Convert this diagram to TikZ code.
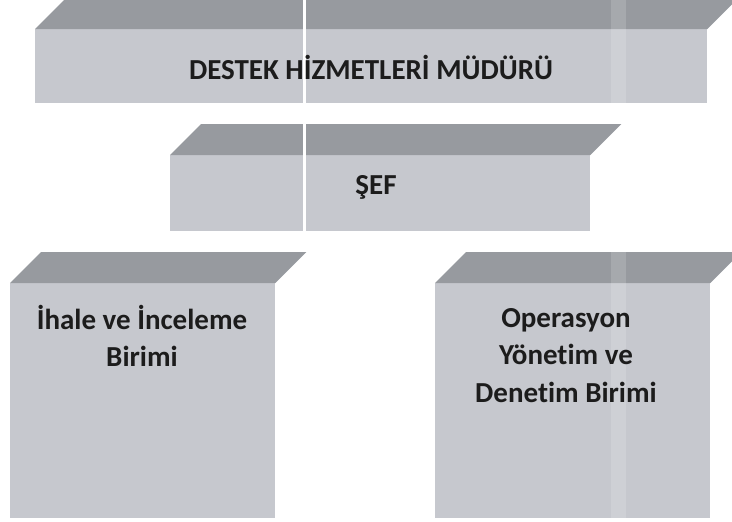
\documentclass[tikz,border=0pt]{standalone}
\usepackage{fontspec}
\setmainfont{Carlito}[Ligatures=NoCommon]
\definecolor{frontgray}{HTML}{C6C8CE}
\definecolor{topgray}{HTML}{979A9F}
\definecolor{inkgray}{HTML}{1C1C1C}
\begin{document}
\begin{tikzpicture}[x=1pt,y=-1pt,
  frontface/.style={draw=none, fill=frontgray, rectangle, inner sep=0pt, anchor=north west},
  topface/.style={fill=topgray, draw=none},
  label29/.style={font=\fontsize{29}{37.5}\selectfont\bfseries, text=inkgray, inner sep=0pt, align=center}]
\useasboundingbox (0,0) rectangle (732,522);
\fill[white] (0,0) rectangle (732,522);
% boxes (front faces)
\node[frontface, minimum width=672pt, minimum height=74pt] (b1) at (35,29) {};
\node[frontface, minimum width=420pt, minimum height=76pt] (b2) at (170,155) {};
\node[frontface, minimum width=265pt, minimum height=235pt] (b3) at (10,283) {};
\node[frontface, minimum width=275pt, minimum height=235pt] (b4) at (435,283) {};
% top faces
\foreach \b in {b1,b2,b3,b4}{
  \fill[topface] (\b.north west) -- ([shift={(31,-31)}]\b.north west)
    -- ([shift={(31,-31)}]\b.north east) -- (\b.north east) -- cycle;
}
% scan artefacts: fold line and light band
\fill[white] (302.5,0) rectangle (305.5,231);
\fill[white, opacity=0.15] (611,0) rectangle (626,103);
\fill[white, opacity=0.15] (611,252) rectangle (626,518);
% texts
\node[label29, anchor=base] (t1) at (371,79) {DESTEK HİZMETLERİ MÜDÜRÜ};
\node[label29, anchor=base] (t2) at (376,194) {ŞEF};
\node[label29, anchor=north] (t3) at (142,305) {İhale ve İnceleme\\Birimi};
\node[label29, anchor=north] (t4) at (566,308) {Operasyon\\Yönetim ve\\Denetim Birimi};
\end{tikzpicture}
\end{document}
